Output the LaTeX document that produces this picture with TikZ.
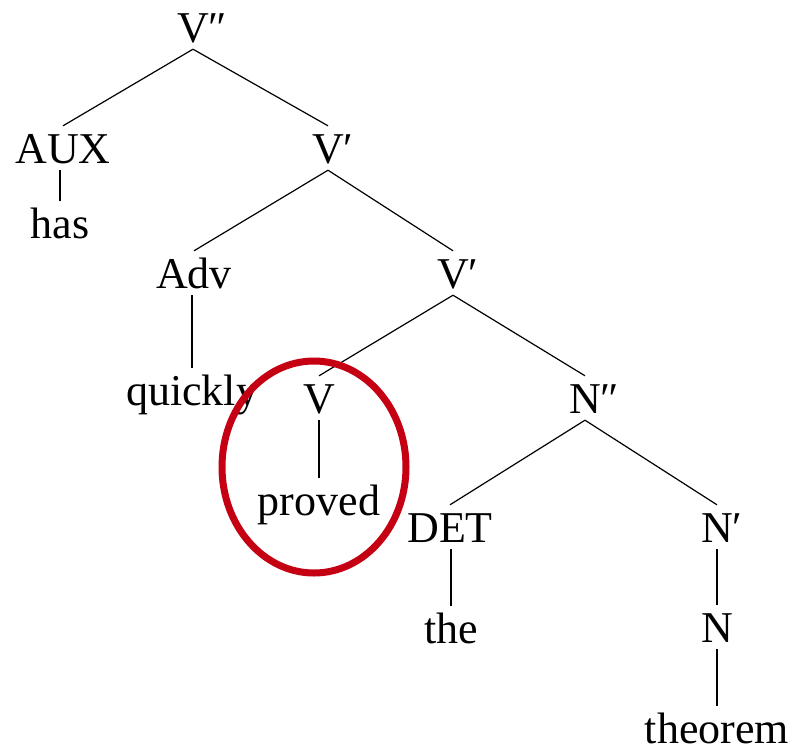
\documentclass[tikz,border=0pt]{standalone}
\usepackage{fontspec}
\setmainfont{Liberation Serif}
\definecolor{circred}{RGB}{196,0,18}
\begin{document}
\begin{tikzpicture}[x=1pt,y=-1pt,
  lab/.style={anchor=base,inner sep=7pt,text height=30pt,text depth=0pt,
    font=\fontsize{44}{48}\selectfont},
  br/.style={line width=1.2pt,black}]
\useasboundingbox (0,0) rectangle (795,753);
\node[lab] (Vpp) at (193,42) {V\rlap{″}};
\node[lab] (AUX) at (63,163) {AUX};
\node[lab] (has) at (60,238) {has};
\node[lab] (Vp1) at (328,163) {V\rlap{′}};
\node[lab] (Adv) at (194,288) {Adv};
\node[lab] (Vp2) at (453,288) {V\rlap{′}};
\node[lab] (quickly) at (192,405) {quickly};
\node[lab] (V) at (319,413) {V};
\node[lab] (proved) at (319,515) {proved};
\node[lab] (Npp) at (585,413) {N\rlap{″}};
\node[lab] (DET) at (450,542) {DET};
\node[lab] (the) at (451,643) {the};
\node[lab] (Np) at (717,542) {N\rlap{′}};
\node[lab] (N) at (717,642) {N};
\node[lab] (theorem) at (717,743) {theorem};
\draw[br] (Vpp.south) -- (AUX.north);
\draw[br] (Vpp.south) -- (Vp1.north);
\draw[br] (has.north) -- (has.north |- AUX.south);
\draw[br] (Vp1.south) -- (Adv.north);
\draw[br] (Vp1.south) -- (Vp2.north);
\draw[br] (quickly.north) -- (quickly.north |- Adv.south);
\draw[br] (Vp2.south) -- (V.north);
\draw[br] (Vp2.south) -- (Npp.north);
\draw[br] (proved.north) -- (proved.north |- V.south);
\draw[br] (Npp.south) -- (DET.north);
\draw[br] (Npp.south) -- (Np.north);
\draw[br] (the.north) -- (the.north |- DET.south);
\draw[br] (N.north) -- (N.north |- Np.south);
\draw[br] (theorem.north) -- (theorem.north |- N.south);
\draw[circred,line width=7pt] (314,467) ellipse [x radius=92, y radius=106];
\end{tikzpicture}
\end{document}
